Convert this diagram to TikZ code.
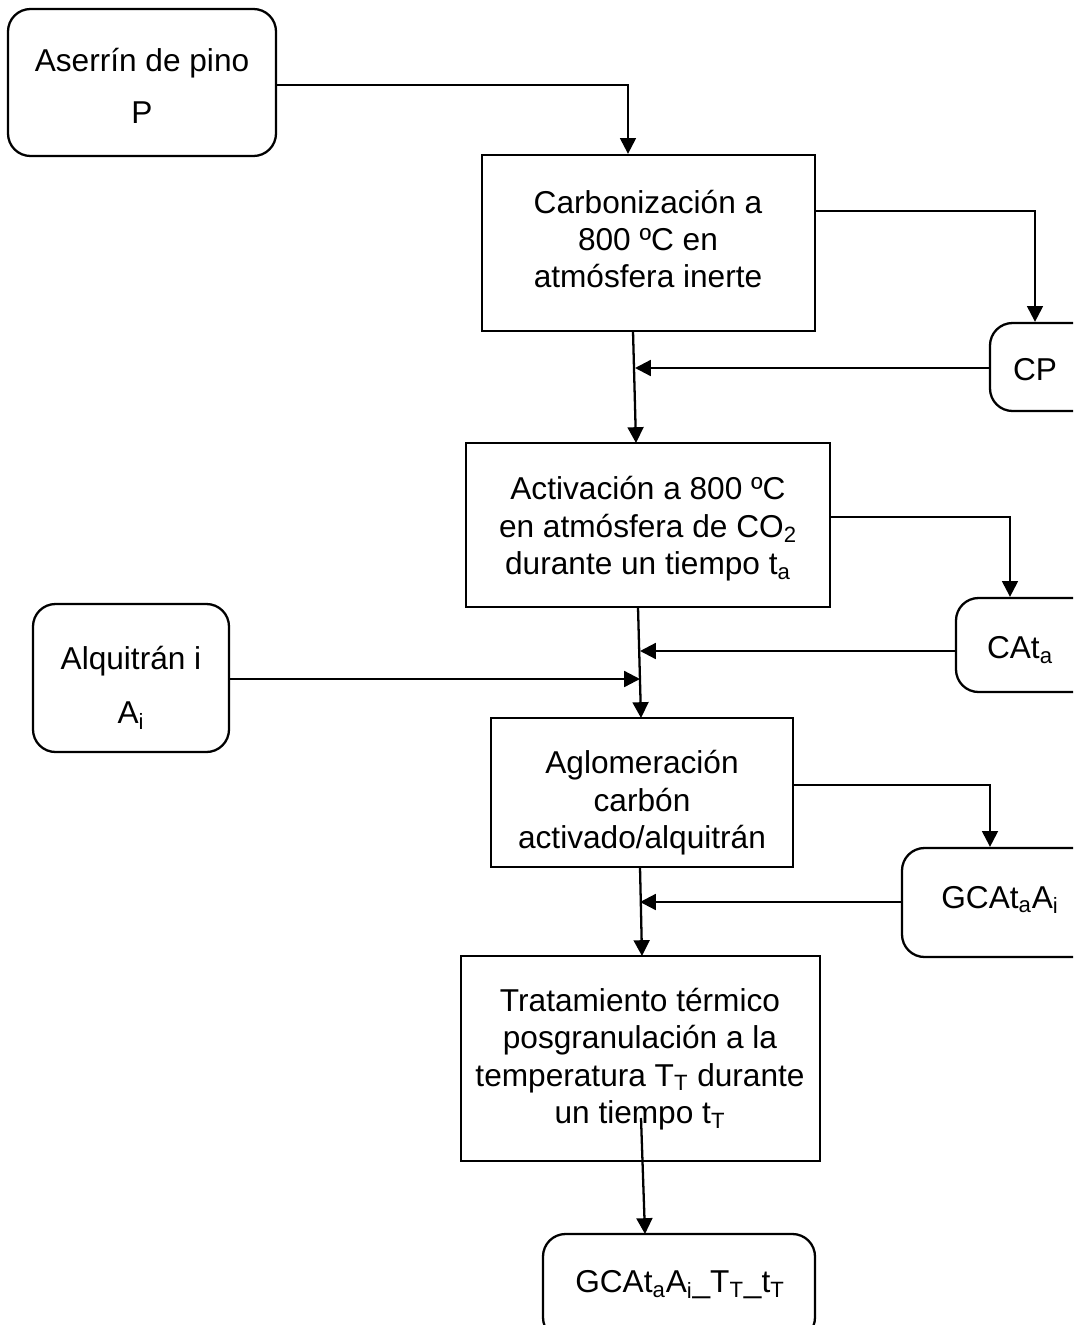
\documentclass[tikz,border=0pt]{standalone}
\usepackage{fontspec}
\setmainfont{Liberation Sans}
\usetikzlibrary{arrows.meta}
\begin{document}
\begin{tikzpicture}[x=0.02cm,y=-0.02cm,
  line width=1.3pt,
  txt/.style={font=\fontsize{18}{21.3}\selectfont,align=center,inner sep=0pt},
  procbox/.style={draw,rectangle,inner sep=0pt},
  prodbox/.style={draw,rectangle,rounded corners=0.45cm,inner sep=0pt},
  flow/.style={-{Triangle[length=9pt,width=9pt]}}]
\useasboundingbox (0,0) rectangle (1073,1325);
\clip (0,0) rectangle (1073,1325);

% raw material
\node[prodbox,minimum width=268*0.02cm,minimum height=147*0.02cm] (ase) at (142,82.5) {};
\node[txt,font=\fontsize{18}{29.6}\selectfont] (asetxt) at (142,86) {Aserrín de pino\\P};

% process steps
\node[procbox,minimum width=333*0.02cm,minimum height=176*0.02cm] (carb) at (648.5,243) {};
\node[txt] (carbtxt) at (648,239) {Carbonización a\\800 ºC en\\atmósfera inerte};

\node[procbox,minimum width=364*0.02cm,minimum height=164*0.02cm] (act) at (648,525) {};
\node[txt] (acttxt) at (648,529) {Activación a 800 ºC\\en atmósfera de CO\textsubscript{2}\\durante un tiempo t\textsubscript{a}};

\node[procbox,minimum width=302*0.02cm,minimum height=149*0.02cm] (agl) at (642,792.5) {};
\node[txt] (agltxt) at (642,803) {Aglomeración\\carbón\\activado/alquitrán};

\node[procbox,minimum width=359*0.02cm,minimum height=205*0.02cm] (trat) at (640.5,1058.5) {};
\node[txt] (trattxt) at (640,1059) {Tratamiento térmico\\posgranulación a la\\temperatura T\textsubscript{T} durante\\un tiempo t\textsubscript{T}};

% products
\node[prodbox,minimum width=105*0.02cm,minimum height=88*0.02cm] (cp) at (1042.5,367) {};
\node[txt] (cptxt) at (1035,370) {CP};

\node[prodbox,minimum width=139*0.02cm,minimum height=94*0.02cm] (cata) at (1025.5,645) {};
\node[txt] (catatxt) at (1020,650) {CAt\textsubscript{a}};

\node[prodbox,minimum width=196*0.02cm,minimum height=148*0.02cm] (alq) at (131,678) {};
\node[txt,font=\fontsize{18}{30.7}\selectfont] (alqtxt) at (131,688) {Alquitrán i\\A\textsubscript{i}};

\node[prodbox,minimum width=193*0.02cm,minimum height=109*0.02cm] (gca) at (998.5,902.5) {};
\node[txt] (gcatxt) at (1000,900) {GCAt\textsubscript{a}A\textsubscript{i}};

\node[prodbox,minimum width=272*0.02cm,minimum height=106*0.02cm] (fin) at (679,1287) {};
\node[txt] (fintxt) at (680,1285) {GCAt\textsubscript{a}A\textsubscript{i}\_T\textsubscript{T}\_t\textsubscript{T}};

% junction points on the main line
\coordinate (j1a) at (633,331);
\coordinate (j1b) at (636,443);
\coordinate (j2a) at (638,607);
\coordinate (j2b) at (641,718);
\coordinate (j3a) at (640,867);
\coordinate (j3b) at (642,956);
\coordinate (j4a) at (641,1118);
\coordinate (j4b) at (645,1234);
\coordinate (m1) at (635,368);
\coordinate (m2) at (640,651);
\coordinate (m2b) at (640,679);
\coordinate (m3) at (640,902);

% connectors
\draw[flow] (ase.east |- 0,85) -| (carb.north -| 628,0);
\draw[flow] (carb.east |- 0,211) -| (cp.north -| 1035,0);
\draw[flow] (j1a) -- (j1b);
\draw[flow] (cp.west |- m1) -- (m1);
\draw[flow] (act.east |- 0,517) -| (cata.north -| 1010,0);
\draw[flow] (j2a) -- (j2b);
\draw[flow] (cata.west |- m2) -- (m2);
\draw[flow] (alq.east |- m2b) -- (m2b);
\draw[flow] (agl.east |- 0,785) -| (gca.north -| 990,0);
\draw[flow] (j3a) -- (j3b);
\draw[flow] (gca.west |- m3) -- (m3);
\draw[flow] (j4a) -- (j4b);
\end{tikzpicture}
\end{document}
